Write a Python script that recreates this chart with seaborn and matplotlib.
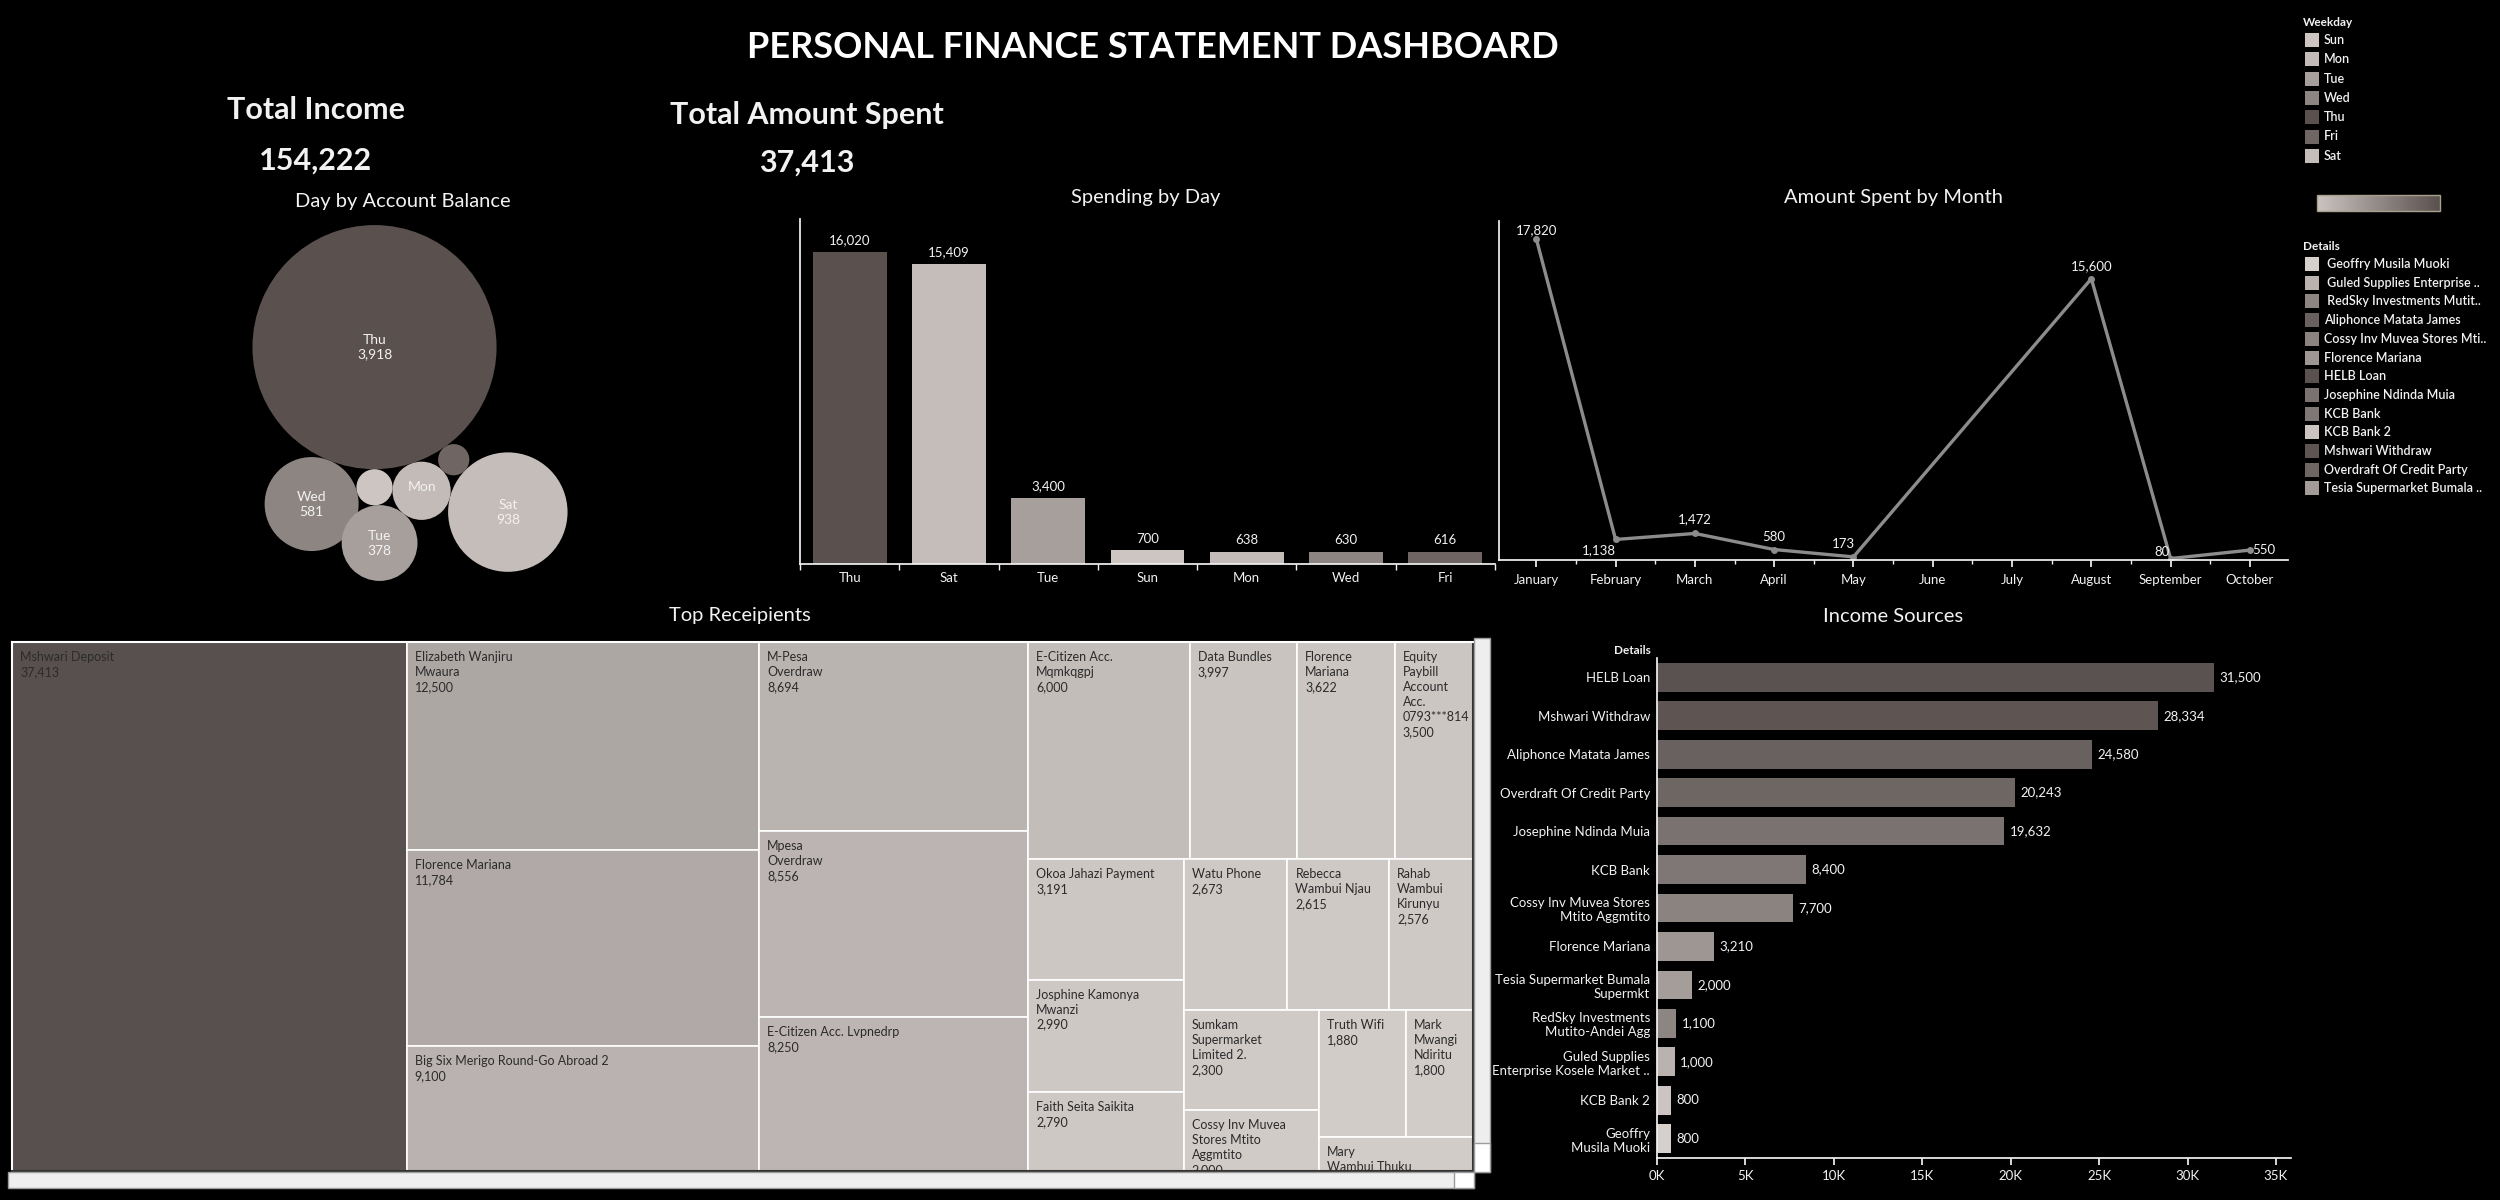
import numpy as np
import pandas as pd
import matplotlib
matplotlib.use("Agg")
import matplotlib.pyplot as plt
import seaborn as sns
from matplotlib.patches import Rectangle, Circle
from matplotlib.colors import LinearSegmentedColormap

# ---------------- data ----------------
total_income = 154222
total_spent = 37413

weekdays = ['Sun', 'Mon', 'Tue', 'Wed', 'Thu', 'Fri', 'Sat']
weekday_colors = ['#cdc5c1', '#c3bbb8', '#a79f9c', '#8d8582', '#5a504e', '#6f6664', '#c5bdba']

balance_days = ['Thu', 'Sat', 'Wed', 'Tue', 'Mon', 'Sun', 'Fri']
balance_values = [3918, 938, 581, 378, 223, 86, 64]

spend_days = ['Thu', 'Sat', 'Tue', 'Sun', 'Mon', 'Wed', 'Fri']
spend_values = [16020, 15409, 3400, 700, 638, 630, 616]

months = ['January', 'February', 'March', 'April', 'May', 'June', 'July',
          'August', 'September', 'October']
spent_months = ['January', 'February', 'March', 'April', 'May', 'August', 'September', 'October']
spent_month_values = [17820, 1138, 1472, 580, 173, 15600, 80, 550]

income_sources = ['HELB Loan', 'Mshwari Withdraw', 'Aliphonce Matata James',
                  'Overdraft Of Credit Party', 'Josephine Ndinda Muia', 'KCB Bank',
                  'Cossy Inv Muvea Stores\nMtito Aggmtito', 'Florence Mariana',
                  'Tesia Supermarket Bumala\nSupermkt', 'RedSky Investments\nMutito-Andei Agg',
                  'Guled Supplies\nEnterprise Kosele Market ..', 'KCB Bank 2',
                  'Geoffry\nMusila Muoki']
income_values = [31500, 28334, 24580, 20243, 19632, 8400, 7700, 3210, 2000, 1100, 1000, 800, 800]
income_colors = ['#5a5250', '#5e5553', '#696160', '#6e6663', '#7a7270', '#7f7775', '#8b8380',
                 '#9e9693', '#a59d9a', '#8d8582', '#bab2af', '#cbc4c1', '#d6d0cd']

details_legend = [' Geoffry Musila Muoki', ' Guled Supplies Enterprise ..', ' RedSky Investments Mutit..',
                  'Aliphonce Matata James', 'Cossy Inv Muvea Stores Mti..', 'Florence Mariana',
                  'HELB Loan', 'Josephine Ndinda Muia', 'KCB Bank', 'KCB Bank 2',
                  'Mshwari Withdraw', 'Overdraft Of Credit Party', 'Tesia Supermarket Bumala ..']
details_colors = ['#d6d0cd', '#bab2af', '#8d8582', '#696160', '#8b8380', '#9e9693', '#5a5250',
                  '#7a7270', '#7f7775', '#cbc4c1', '#5e5553', '#6e6663', '#a39b98']

recipients = ['Mshwari Deposit', 'Elizabeth Wanjiru\nMwaura', 'Florence Mariana',
              'Big Six Merigo Round-Go Abroad 2', 'M-Pesa\nOverdraw', 'Mpesa\nOverdraw',
              'E-Citizen Acc. Lvpnedrp', 'E-Citizen Acc.\nMqmkqgpj', 'Data Bundles',
              'Florence\nMariana', 'Equity\nPaybill\nAccount\nAcc.\n0793***814',
              'Okoa Jahazi Payment', 'Josphine Kamonya\nMwanzi', 'Faith Seita Saikita',
              'Watu Phone', 'Rebecca\nWambui Njau', 'Rahab\nWambui\nKirunyu',
              'Sumkam\nSupermarket\nLimited 2.', 'Cossy Inv Muvea\nStores Mtito\nAggmtito',
              'Truth Wifi', 'Mark\nMwangi\nNdiritu', 'Mary\nWambui Thuku']
recipient_values = [37413, 12500, 11784, 9100, 8694, 8556, 8250, 6000, 3997, 3622, 3500,
                    3191, 2990, 2790, 2673, 2615, 2576, 2300, 2000, 1880, 1800, 1750]

# treemap nesting (h = side by side, v = stacked), leaves index recipients
tree_layout = ('h', [0, ('v', [1, 2, 3]), ('v', [4, 5, 6]),
                     ('v', [('h', [7, 8, 9, 10]),
                            ('h', [('v', [11, 12, 13]),
                                   ('v', [('h', [14, 15, 16]),
                                          ('h', [('v', [17, 18]),
                                                 ('v', [('h', [19, 20]), 21])])])])])])

# bubble packing order: (circle, touches, also touches, side)
bubble_chain = [('Sun', 'Thu', None, 0), ('Mon', 'Thu', 'Sun', 1), ('Wed', 'Thu', 'Sun', -1),
                ('Tue', 'Sun', 'Mon', -1), ('Fri', 'Thu', 'Mon', 1), ('Sat', 'Mon', 'Fri', -1)]

# ---------------- style ----------------
W, H = 2500, 1200
sns.set_theme(style="dark")
plt.rcParams['font.family'] = ['Lato', 'DejaVu Sans']
plt.rcParams['axes.facecolor'] = 'black'
plt.rcParams['figure.facecolor'] = 'black'
WHITE = '#f2f2f2'

fig = plt.figure(figsize=(25, 12), dpi=100)


def px_axes(x0, y0, x1, y1):
    a = fig.add_axes([x0 / W, 1 - y1 / H, (x1 - x0) / W, (y1 - y0) / H])
    a.set_facecolor('black')
    return a


def ftext(x, y, s, **kw):
    kw.setdefault('color', WHITE)
    kw.setdefault('ha', 'center')
    kw.setdefault('va', 'center')
    fig.text(x / W, 1 - y / H, s, **kw)


def frect(x0, y0, x1, y1, **kw):
    fig.patches.append(Rectangle((x0 / W, 1 - y1 / H), (x1 - x0) / W, (y1 - y0) / H,
                                 transform=fig.transFigure, **kw))


def clean(ax):
    for s in ax.spines.values():
        s.set_visible(False)
    ax.grid(False)


# ---------------- headers ----------------
ftext(1153, 48, 'PERSONAL FINANCE STATEMENT DASHBOARD', fontsize=26, fontweight='bold', color='white')
ftext(316, 110, 'Total Income', fontsize=22, fontweight='bold')
ftext(316, 161, f'{total_income:,}', fontsize=22, fontweight='bold')
ftext(807, 115, 'Total Amount Spent', fontsize=22, fontweight='bold')
ftext(807, 163, f'{total_spent:,}', fontsize=22, fontweight='bold')
ftext(403, 201, 'Day by Account Balance', fontsize=14.5)
ftext(1146, 198, 'Spending by Day', fontsize=14.5)
ftext(1893, 198, 'Amount Spent by Month', fontsize=14.5)
ftext(740, 615, 'Top Receipients', fontsize=14.5)
ftext(1893, 616, 'Income Sources', fontsize=14.5)

day_palette = dict(zip(weekdays, weekday_colors))

# ---------------- packed bubbles ----------------
radius = {d: np.sqrt(v) for d, v in zip(balance_days, balance_values)}
center = {balance_days[0]: np.array([0.0, 0.0])}
for c, a, b, side in bubble_chain:
    pa = center[a]
    if b is None:
        center[c] = pa + np.array([0.0, -(radius[a] + radius[c])])
        continue
    pb = center[b]
    ra, rb = radius[a] + radius[c], radius[b] + radius[c]
    d = np.linalg.norm(pb - pa)
    u = (pb - pa) / d
    along = (ra ** 2 - rb ** 2 + d ** 2) / (2 * d)
    off = np.sqrt(max(ra ** 2 - along ** 2, 0))
    perp = np.array([-u[1], u[0]])
    center[c] = pa + along * u + side * off * perp

scale = 1.95  # px per sqrt unit
axb = px_axes(200, 215, 620, 591)
clean(axb)
pts = np.array([center[d] for d in balance_days])
rr = np.array([radius[d] for d in balance_days])
lo = (pts - rr[:, None]).min(0)
hi = (pts + rr[:, None]).max(0)
cx, cy = (lo + hi) / 2
axb.set_xlim(cx - 210 / scale, cx + 210 / scale)
axb.set_ylim(cy - 188 / scale, cy + 188 / scale)
axb.set_xticks([]); axb.set_yticks([])
for d, v in zip(balance_days, balance_values):
    x, y = center[d]
    r = radius[d]
    axb.add_patch(Circle((x, y), r, facecolor=day_palette[d], edgecolor='none'))
    rp = r * scale
    if rp >= 35:
        axb.text(x, y, f'{d}\n{v:,}', ha='center', va='center', color=WHITE, fontsize=10, linespacing=1.3)
    elif rp >= 25:
        axb.text(x, y + 2, d, ha='center', va='center', color=WHITE, fontsize=10)

# ---------------- spending by day ----------------
ax1 = px_axes(800, 219, 1495, 564)
df_spend = pd.DataFrame({'day': spend_days, 'amount': spend_values})
sns.barplot(data=df_spend, x='day', y='amount', order=spend_days, hue='day',
            palette=day_palette, saturation=1, width=0.745, legend=False,
            linewidth=0, edgecolor='none', ax=ax1)
clean(ax1)
ax1.set_xlim(-0.5, 6.5)
ax1.set_ylim(0, 17700)
for c in ax1.containers:
    ax1.bar_label(c, fmt='{:,.0f}', padding=4, color=WHITE, fontsize=9.5)
for s in ['left', 'bottom']:
    ax1.spines[s].set_visible(True)
    ax1.spines[s].set_color(WHITE)
ax1.set_yticks([])
ax1.set_xlabel(''); ax1.set_ylabel('')
ax1.set_xticks(np.arange(-0.5, 7, 1), minor=True)
ax1.tick_params(axis='x', which='major', length=0, colors=WHITE, labelsize=9.5, pad=6)
ax1.tick_params(axis='x', which='minor', length=4, color=WHITE, direction='out', bottom=True)

# ---------------- amount spent by month ----------------
ax2 = px_axes(1499, 221, 2288, 560)
df_month = pd.DataFrame({'idx': [months.index(m) for m in spent_months], 'amount': spent_month_values})
sns.lineplot(data=df_month, x='idx', y='amount', color='#8c8c8c', linewidth=2.4,
             marker='o', markersize=5, markeredgewidth=0, ax=ax2)
clean(ax2)
ax2.set_xlim(-0.47, 9.48)
ax2.set_ylim(0, 18800)
for s in ['left', 'bottom']:
    ax2.spines[s].set_visible(True)
    ax2.spines[s].set_color(WHITE)
ax2.set_yticks([])
ax2.set_xticks(range(len(months)))
ax2.set_xticklabels(months)
ax2.set_xticks(np.arange(0.5, 9.5, 1), minor=True)
ax2.tick_params(axis='x', which='major', length=5, color=WHITE, colors=WHITE, labelsize=9.5, pad=5,
                bottom=True)
ax2.tick_params(axis='x', which='minor', length=3, color=WHITE, bottom=True)
ax2.set_xlabel(''); ax2.set_ylabel('')
label_offsets = {'January': (0, 6), 'February': (-12, -8), 'March': (0, 10), 'April': (0, 9),
                 'May': (-7, 9), 'August': (0, 9), 'September': (-6, 5), 'October': (10, 0)}
for m, v in zip(spent_months, spent_month_values):
    ax2.annotate(f'{v:,}', (months.index(m), v), xytext=label_offsets[m], textcoords='offset points',
                 ha='center', va='center', color=WHITE, fontsize=9.5)

# ---------------- income sources ----------------
ax3 = px_axes(1657, 658, 2291, 1158)
df_inc = pd.DataFrame({'source': income_sources, 'amount': income_values})
sns.barplot(data=df_inc, y='source', x='amount', order=income_sources, hue='source',
            palette=dict(zip(income_sources, income_colors)), saturation=1, width=0.75,
            legend=False, orient='h', linewidth=0, edgecolor='none', ax=ax3)
clean(ax3)
ax3.set_ylim(12.5, -0.5)
ax3.set_xlim(0, 35850)
for c in ax3.containers:
    ax3.bar_label(c, fmt='{:,.0f}', padding=4, color=WHITE, fontsize=9.5)
for s in ['left', 'bottom']:
    ax3.spines[s].set_visible(True)
    ax3.spines[s].set_color(WHITE)
ax3.set_xticks(np.arange(0, 35001, 5000))
ax3.set_xticklabels([f'{int(t / 1000)}K' for t in np.arange(0, 35001, 5000)])
ax3.tick_params(axis='x', length=5, color=WHITE, colors=WHITE, labelsize=9.5, bottom=True)
ax3.tick_params(axis='y', length=0, colors=WHITE, labelsize=9.5, pad=5)
ax3.set_xlabel(''); ax3.set_ylabel('')
ftext(1651, 650, 'Details', fontsize=8.5, fontweight='bold', ha='right')

# ---------------- treemap ----------------
TREE_W, TREE_H = 1477, 555
rv = np.array(recipient_values, float)


def node_sum(node):
    if isinstance(node, int):
        return rv[node]
    return sum(node_sum(k) for k in node[1])


def place(node, x, y, w, h, out):
    if isinstance(node, int):
        out[node] = (x, y, w, h)
        return
    direction, kids = node
    s = node_sum(node)
    for k in kids:
        t = node_sum(k)
        if direction == 'h':
            kw = w * t / s
            place(k, x, y, kw, h, out)
            x += kw
        else:
            kh = h * t / s
            place(k, x, y, w, kh, out)
            y += kh


rects = {}
place(tree_layout, 0, 0, TREE_W, TREE_H, rects)
tree_cmap = LinearSegmentedColormap.from_list('tm', ['#d8d2cf', '#58504e'])
axt = px_axes(12, 642, 1473, 1171)
clean(axt)
axt.set_xlim(0, 1461)
axt.set_ylim(529, 0)
axt.set_xticks([]); axt.set_yticks([])
for i, (x, y, w, h) in rects.items():
    axt.add_patch(Rectangle((x, y), w, h, facecolor=tree_cmap(rv[i] / rv.max()),
                            edgecolor='white', linewidth=1.2))
    axt.text(x + 8, y + 9, f'{recipients[i]}\n{recipient_values[i]:,}', ha='left', va='top',
             fontsize=9, color='#2b2b2b', linespacing=1.3, clip_on=True)
for side, col in [('left', 'white'), ('top', 'white'), ('right', '#333333'), ('bottom', '#333333')]:
    axt.spines[side].set_visible(True)
    axt.spines[side].set_color(col)
    axt.spines[side].set_linewidth(1.5)

# scrollbars
frect(1474, 638, 1490, 1172, facecolor='#eeeeee', edgecolor='#9c9c9c', linewidth=1)
frect(1474, 1143, 1490, 1172, facecolor='white', edgecolor='#9c9c9c', linewidth=1)
frect(8, 1172, 1474, 1188, facecolor='#eeeeee', edgecolor='#9c9c9c', linewidth=1)
frect(1454, 1172, 1474, 1188, facecolor='white', edgecolor='#9c9c9c', linewidth=1)

# ---------------- legends ----------------
axl = px_axes(2280, 0, 2500, 540)
clean(axl)
axl.set_xticks([]); axl.set_yticks([])
axl.text(2303, 23, 'Weekday', color=WHITE, fontsize=8.5, fontweight='bold', va='center')
for k, (d, c) in enumerate(zip(weekdays, weekday_colors)):
    yy = 40 + 19.3 * k
    axl.add_patch(Rectangle((2305, yy - 7), 14, 14, facecolor=c, edgecolor='none'))
    axl.text(2324, yy, d, color=WHITE, fontsize=9, fontweight='semibold', va='center')
grad = np.linspace(0, 1, 256)[None, :]
axl.imshow(grad, extent=[2317, 2440, 211, 195], aspect='auto',
           cmap=LinearSegmentedColormap.from_list('g', ['#cbc4c1', '#5a504e']))
axl.add_patch(Rectangle((2317, 195), 123, 16, facecolor='none', edgecolor='#a89f8c', linewidth=1))
axl.text(2303, 247, 'Details', color=WHITE, fontsize=8.5, fontweight='bold', va='center')
for k, (d, c) in enumerate(zip(details_legend, details_colors)):
    yy = 264 + 18.7 * k
    axl.add_patch(Rectangle((2305, yy - 7), 14, 14, facecolor=c, edgecolor='none'))
    axl.text(2324, yy, d, color=WHITE, fontsize=9, fontweight='semibold', va='center')
axl.set_xlim(2280, 2500)
axl.set_ylim(540, 0)

fig.savefig('out.png', dpi=100, facecolor='black')
